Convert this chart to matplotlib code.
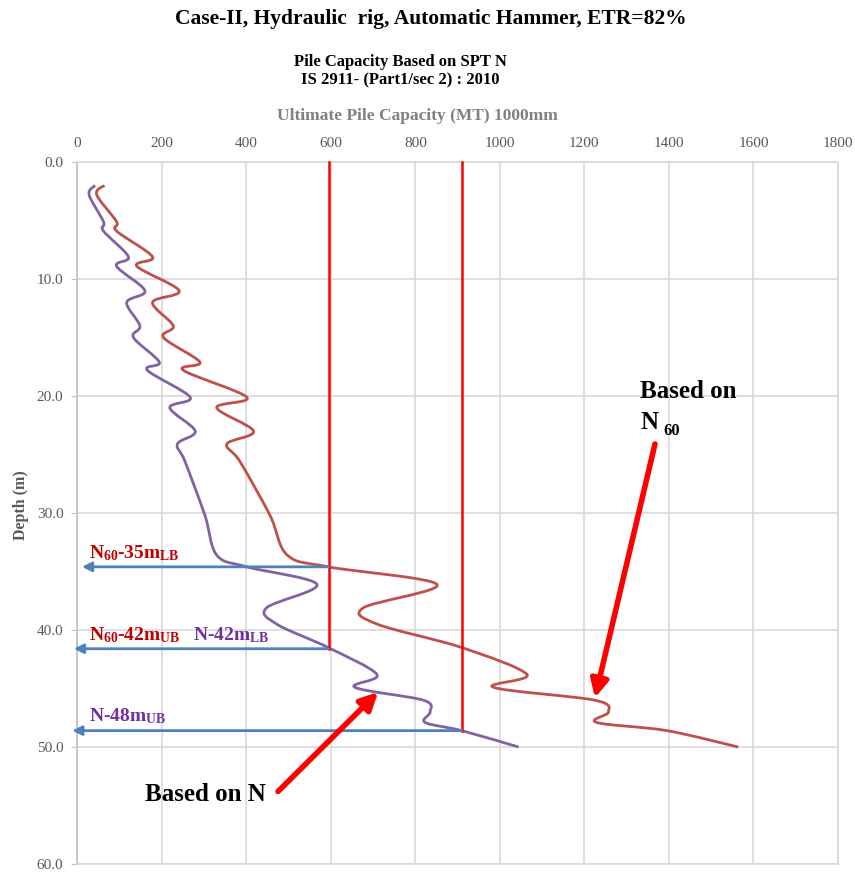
import numpy as np
import matplotlib
matplotlib.use("Agg")
import matplotlib.pyplot as plt
from matplotlib.path import Path
from matplotlib.patches import PathPatch

plt.rcParams['font.family'] = ['Liberation Serif', 'DejaVu Serif']
plt.rcParams['mathtext.fontset'] = 'custom'
plt.rcParams['mathtext.rm'] = 'Liberation Serif:bold'
plt.rcParams['mathtext.bf'] = 'Liberation Serif:bold'
plt.rcParams['mathtext.default'] = 'bf'

# depth (m) of the read points
depth = [2.0, 2.8, 5.1, 5.9, 8.1, 8.9, 11.0, 12.0, 14.0, 15.0, 17.1, 17.8,
         20.1, 21.0, 23.0, 24.1, 25.6, 30.2, 33.6, 34.6, 36.1, 38.1, 39.5,
         41.5, 43.8, 44.9, 46.0, 47.0, 47.9, 48.6, 50.0]
# ultimate pile capacity (MT), based on N60
cap_n60 = [64, 46, 93, 93, 178, 141, 241, 178, 227, 204, 290, 251,
           401, 330, 417, 354, 385, 456, 497, 594, 851, 677, 710,
           910, 1064, 985, 1225, 1257, 1229, 1395, 1564]
# ultimate pile capacity (MT), based on N
cap_n = [42, 28, 62, 62, 121, 93, 160, 117, 148, 133, 194, 166,
         267, 219, 279, 237, 255, 302, 330, 401, 567, 448, 472,
         594, 709, 657, 819, 835, 823, 910, 1044]

# design capacity lines (MT) and the depth where each is reached
design_cap = [595, 910]
design_depth = [41.6, 48.6]
# arrows: (start capacity, depth, tip capacity)
arrows = [(595, 34.6, 11), (595, 41.6, -8), (910, 48.6, -12)]

xticks = list(range(0, 1801, 200))
yticks = list(range(0, 61, 10))

RED_CURVE = '#C0504D'
PURPLE_CURVE = '#8064A2'
BLUE = '#4F81BD'
TXT_RED = '#C00000'
TXT_PURPLE = '#7030A0'
GRID = '#D9D9D9'


def smooth_path(xs, ys):
    # Excel style smoothed line: Catmull-Rom through the points as Bezier pieces
    pts = np.column_stack([xs, ys]).astype(float)
    n = len(pts)
    verts = [pts[0]]
    codes = [Path.MOVETO]
    for i in range(n - 1):
        p0 = pts[max(i - 1, 0)]
        p1 = pts[i]
        p2 = pts[i + 1]
        p3 = pts[min(i + 2, n - 1)]
        verts += [p1 + (p2 - p0) / 6, p2 - (p3 - p1) / 6, p2]
        codes += [Path.CURVE4] * 3
    return Path(verts, codes)


fig = plt.figure(figsize=(8.55, 8.73), dpi=100)
ax = fig.add_axes([0.0904, 0.0103, 0.8897, 0.8041])

ax.set_xlim(0, 1800)
ax.set_ylim(60, 0)
ax.set_xticks(xticks)
ax.set_yticks(yticks)
ax.set_yticklabels([f'{v:.1f}' for v in yticks])
ax.xaxis.tick_top()
ax.tick_params(axis='x', length=0, pad=9, labelsize=11, labelcolor='#595959')
ax.tick_params(axis='y', length=4, pad=6, labelsize=11, labelcolor='#595959',
               color='#BFBFBF', direction='out')
ax.grid(True, color=GRID, lw=1.2)
ax.set_axisbelow(True)
for side in ['top', 'right', 'bottom']:
    ax.spines[side].set_color(GRID)
    ax.spines[side].set_linewidth(1.2)
ax.spines['left'].set_color('#BFBFBF')
ax.spines['left'].set_linewidth(1.2)

# capacity curves
ax.add_patch(PathPatch(smooth_path(cap_n60, depth), fill=False, ec=RED_CURVE, lw=2.0, zorder=3))
ax.add_patch(PathPatch(smooth_path(cap_n, depth), fill=False, ec=PURPLE_CURVE, lw=2.0, zorder=3))

# design capacity verticals
for c, d in zip(design_cap, design_depth):
    ax.plot([c, c], [0, d], color='red', lw=1.8, zorder=4, clip_on=False)

# blue arrows to the depth axis
for x0, d, x1 in arrows:
    ax.annotate('', xy=(x1, d), xytext=(x0, d), annotation_clip=False,
                arrowprops=dict(arrowstyle='-|>', color=BLUE, lw=2.0,
                                mutation_scale=14, shrinkA=0, shrinkB=0), zorder=5)

# labels for the arrows
lab_kw = dict(fontsize=14, fontweight='bold', va='baseline', ha='left', zorder=6)
ax.text(28, 33.9, 'N$_{60}$-35m$_{LB}$', color=TXT_RED, **lab_kw)
ax.text(28, 40.9, 'N$_{60}$-42m$_{UB}$', color=TXT_RED, **lab_kw)
ax.text(274, 40.9, 'N-42m$_{LB}$', color=TXT_PURPLE, **lab_kw)
ax.text(28, 47.8, 'N-48m$_{UB}$', color=TXT_PURPLE, **lab_kw)

# "Based on" callouts
ax.annotate('', xy=(1225, 45.8), xytext=(1367, 24.1),
            arrowprops=dict(arrowstyle='-|>', color='red', lw=4,
                            mutation_scale=26, shrinkA=0, shrinkB=0), zorder=6)
ax.annotate('', xy=(712, 45.3), xytext=(475, 53.8),
            arrowprops=dict(arrowstyle='-|>', color='red', lw=4,
                            mutation_scale=26, shrinkA=0, shrinkB=0), zorder=6)
ax.text(1332, 20.2, 'Based on', fontsize=18, fontweight='bold', va='baseline', ha='left')
ax.text(1332, 22.8, 'N', fontsize=18, fontweight='bold', va='baseline', ha='left')
ax.text(1388, 23.3, '60', fontsize=12, fontweight='bold', va='baseline', ha='left')
ax.text(160, 54.6, 'Based on N', fontsize=18, fontweight='bold', va='baseline', ha='left')

# titles
fig.text(0.504, 1 - 19 / 873, 'Case-II, Hydraulic  rig, Automatic Hammer, ETR=82%',
         ha='center', va='center', fontsize=15.5, fontweight='bold')
fig.text(0.468, 1 - 62 / 873, 'Pile Capacity Based on SPT N',
         ha='center', va='center', fontsize=12, fontweight='bold')
fig.text(0.468, 1 - 80 / 873, 'IS 2911- (Part1/sec 2) : 2010',
         ha='center', va='center', fontsize=12, fontweight='bold')
fig.text(0.488, 1 - 116 / 873, 'Ultimate Pile Capacity (MT) 1000mm',
         ha='center', va='center', fontsize=12.5, fontweight='bold', color='#808080')
fig.text(21 / 855, 1 - 505 / 873, 'Depth (m)', rotation=90, ha='center', va='center',
         fontsize=11.5, fontweight='bold', color='#595959')

fig.savefig('out.png', dpi=100)
